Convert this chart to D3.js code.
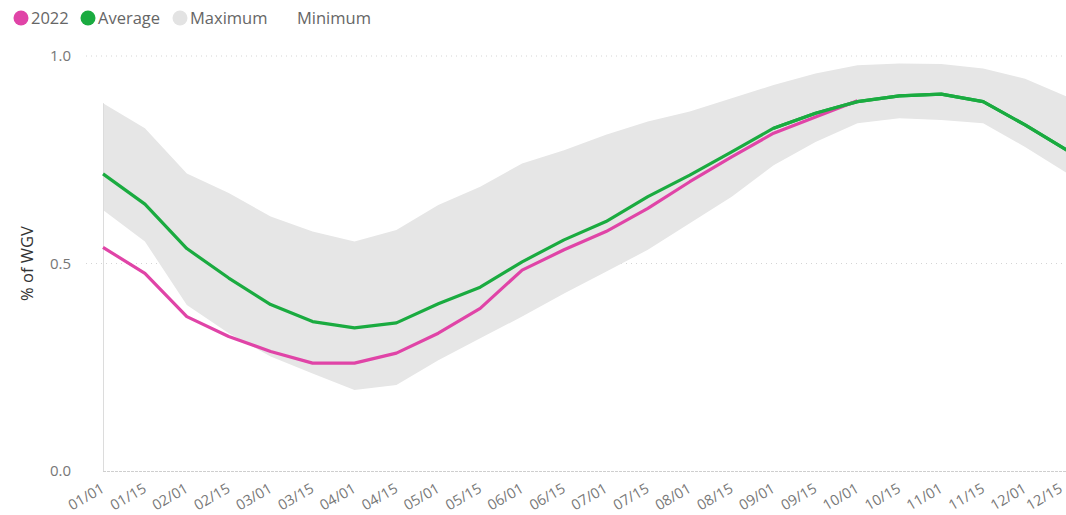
<!DOCTYPE html>
<html>
<head>
<meta charset="utf-8">
<script src="https://cdn.jsdelivr.net/npm/d3@7"></script>
<style>
  html, body { margin: 0; padding: 0; background: #fff; }
  svg { display: block; font-family: "Open Sans", "Noto Sans", sans-serif; }
</style>
</head>
<body>
<svg id="chart" width="1066" height="515"></svg>
<script>
const categories = ["01/01","01/15","02/01","02/15","03/01","03/15","04/01","04/15","05/01","05/15","06/01","06/15",
                    "07/01","07/15","08/01","08/15","09/01","09/15","10/01","10/15","11/01","11/15","12/01","12/15"];
const average = [0.716, 0.643, 0.536, 0.465, 0.401, 0.360, 0.345, 0.357, 0.403, 0.443, 0.504, 0.557,
                 0.601, 0.661, 0.713, 0.769, 0.826, 0.862, 0.890, 0.904, 0.908, 0.890, 0.834, 0.773];
const year2022 = [0.539, 0.476, 0.372, 0.324, 0.288, 0.260, 0.260, 0.284, 0.332, 0.392, 0.484, 0.533,
                  0.577, 0.633, 0.697, 0.757, 0.814, 0.853, 0.892];
const maximum = [0.886, 0.826, 0.717, 0.670, 0.613, 0.577, 0.553, 0.581, 0.641, 0.685, 0.741, 0.773,
                 0.810, 0.842, 0.866, 0.898, 0.930, 0.958, 0.978, 0.982, 0.981, 0.970, 0.945, 0.902];
const minimum = [0.629, 0.553, 0.400, 0.332, 0.276, 0.235, 0.195, 0.207, 0.267, 0.320, 0.372, 0.428,
                 0.480, 0.533, 0.597, 0.661, 0.737, 0.793, 0.838, 0.850, 0.846, 0.838, 0.781, 0.718];
const yTicks = [0.0, 0.5, 1.0];
const legendItems = [
  {label: "2022", color: "#E044A7"},
  {label: "Average", color: "#1AAB40"},
  {label: "Maximum", color: "#E3E3E3"},
  {label: "Minimum", color: "#FFFFFF"}
];

const svg = d3.select("#chart");
const x = d3.scalePoint().domain(categories).range([103, 1067]).padding(0);
const y = d3.scaleLinear().domain([0, 1]).range([471, 56]);

// gridlines
svg.append("g").selectAll("line").data(yTicks.filter(d => d > 0)).join("line")
  .attr("x1", 86).attr("x2", 1066)
  .attr("y1", d => y(d)).attr("y2", d => y(d))
  .attr("stroke", "#d4d4d4")
  .attr("stroke-width", 1)
  .attr("stroke-dasharray", "1,4");
svg.append("line")
  .attr("x1", 103).attr("x2", 1066)
  .attr("y1", y(0) + 0.5).attr("y2", y(0) + 0.5)
  .attr("stroke", "#cfcfcf").attr("stroke-width", 1)
  .attr("stroke-dasharray", "3,1");

// band
const area = d3.area()
  .x((d, i) => x(categories[i]))
  .y0((d, i) => y(minimum[i]))
  .y1((d, i) => y(maximum[i]));
svg.append("path").datum(maximum).attr("d", area).attr("fill", "#E6E6E6");

// left axis line
svg.append("line")
  .attr("x1", 103.5).attr("x2", 103.5)
  .attr("y1", y(maximum[0])).attr("y2", y(0))
  .attr("stroke", "#dcdcdc").attr("stroke-width", 1);

// y tick labels
svg.append("g").selectAll("text").data(yTicks).join("text")
  .attr("x", 71).attr("y", d => y(d)).attr("dy", "0.35em")
  .attr("text-anchor", "end")
  .attr("fill", "#777").attr("font-size", 15)
  .text(d => d3.format(".1f")(d));

// y axis title
svg.append("text")
  .attr("transform", `translate(33,${y(0.5)}) rotate(-90)`)
  .attr("text-anchor", "middle")
  .attr("fill", "#333").attr("font-size", 16.5)
  .text("% of WGV");

// x tick labels
svg.append("g").selectAll("text").data(categories).join("text")
  .attr("transform", d => `translate(${Math.min(x(d) - 3, 1058)},${y(0) + 11}) rotate(-30)`)
  .attr("text-anchor", "end")
  .attr("dy", "0.75em")
  .attr("fill", "#777").attr("font-size", 14.5)
  .text(d => d);

// lines
const line = d3.line().x((d, i) => x(categories[i])).y(d => y(d));
svg.append("path").datum(average).attr("d", line)
  .attr("fill", "none").attr("stroke", "#1AAB40").attr("stroke-width", 3.2)
  .attr("stroke-linejoin", "round");
svg.append("path").datum(year2022).attr("d", line)
  .attr("fill", "none").attr("stroke", "#E044A7").attr("stroke-width", 3.2)
  .attr("stroke-linejoin", "round");
svg.append("path").datum(average.slice(16)).attr("d", d3.line().x((d, i) => x(categories[i + 16])).y(d => y(d)))
  .attr("fill", "none").attr("stroke", "#1AAB40").attr("stroke-width", 3.2)
  .attr("stroke-linejoin", "round");

// legend
const legX = [21, 88, 180, 287];
const leg = svg.append("g").selectAll("g").data(legendItems).join("g")
  .attr("transform", (d, i) => `translate(${legX[i]},18)`);
leg.append("circle").attr("r", 7.5).attr("fill", d => d.color);
leg.append("text").attr("x", 10).attr("dy", "0.36em")
  .attr("fill", "#666").attr("font-size", 16.5).text(d => d.label);
</script>
</body>
</html>
